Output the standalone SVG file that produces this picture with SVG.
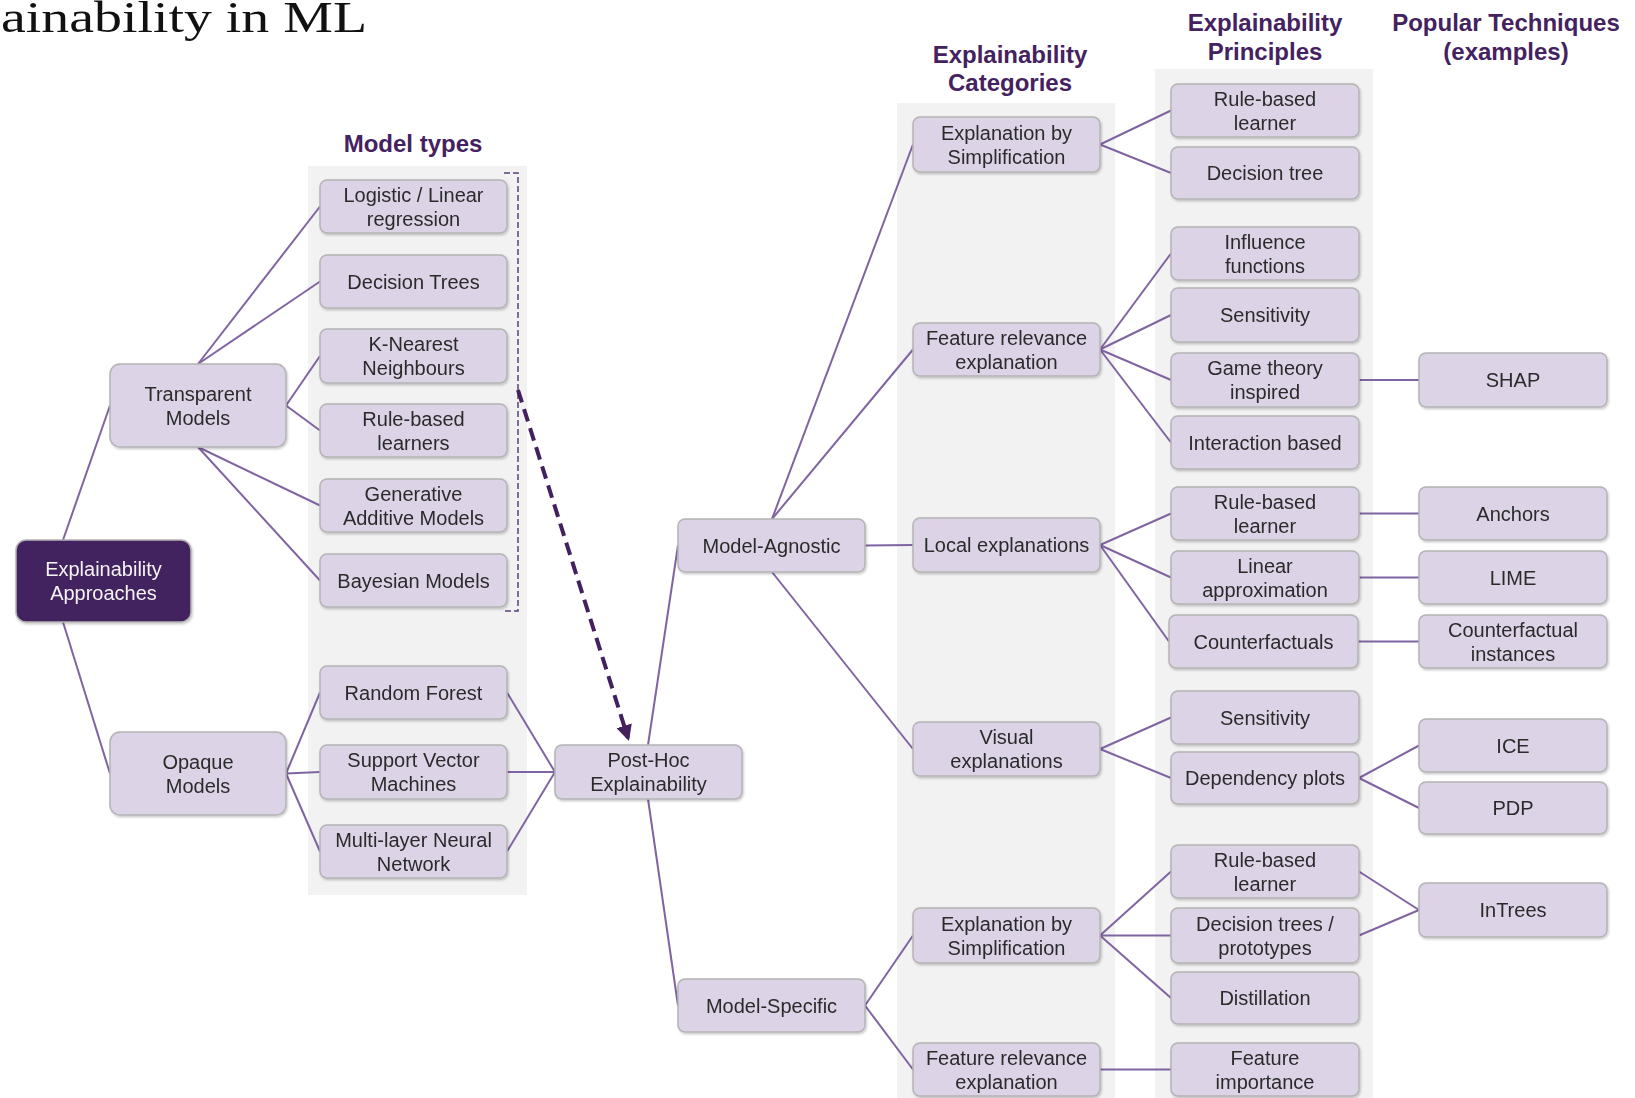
<svg xmlns="http://www.w3.org/2000/svg" width="1635" height="1098" viewBox="0 0 1635 1098">
  <style>
    .panel { fill: #f2f2f2; }
    .box { fill: #dcd3e6; stroke: #b4b4b4; stroke-width: 1.5; }
    .dark { fill: #43205e; stroke: #b4b4b4; stroke-width: 1.5; }
    .lbl { font-family: "Liberation Sans", Arial, sans-serif; font-size: 20px; fill: #2b2b2b; text-anchor: middle; }
    .lbl-w { font-family: "Liberation Sans", Arial, sans-serif; font-size: 20px; fill: #f4f4f4; text-anchor: middle; }
    .head { font-family: "Liberation Sans", Arial, sans-serif; font-size: 24px; font-weight: bold; fill: #44215f; text-anchor: middle; }
    .conn line { stroke: #8064a2; stroke-width: 2; fill: none; }
    .bracket { stroke: #5b3f7a; stroke-width: 1.5; stroke-dasharray: 6 3; fill: none; }
    .arrow { stroke: #43205e; stroke-width: 4; stroke-dasharray: 13 7; fill: none; }
  </style>
  <defs>
    <filter id="sh" x="-10%" y="-10%" width="125%" height="130%">
      <feDropShadow dx="1" dy="1.5" stdDeviation="1" flood-color="#000" flood-opacity="0.22"/>
    </filter>
    <marker id="head" viewBox="0 0 10 10" refX="8" refY="5" markerWidth="4" markerHeight="4" orient="auto" markerUnits="strokeWidth">
      <path d="M0,0 L10,5 L0,10 z" fill="#43205e"/>
    </marker>
  </defs>

  <rect width="1635" height="1098" fill="#ffffff"/>

  <!-- page title, running off the left edge -->
  <text x="1" y="32" font-family="Liberation Serif, Times New Roman, serif" font-size="44" fill="#111" textLength="366" lengthAdjust="spacingAndGlyphs">ainability in ML</text>

  <!-- column backgrounds -->
  <rect class="panel" x="308" y="166" width="219" height="729"/>
  <rect class="panel" x="897" y="103" width="218" height="995"/>
  <rect class="panel" x="1155" y="69" width="218" height="1029"/>

  <!-- column headings -->
  <text class="head" x="413" y="152">Model types</text>
  <text class="head" x="1010" y="63">Explainability</text>
  <text class="head" x="1010" y="91">Categories</text>
  <text class="head" x="1265" y="31">Explainability</text>
  <text class="head" x="1265" y="60">Principles</text>
  <text class="head" x="1506" y="31">Popular Techniques</text>
  <text class="head" x="1506" y="60">(examples)</text>

  <!-- connectors -->
  <g id="connectors" class="conn">
    <line x1="63" y1="540" x2="110" y2="405.5"/>
    <line x1="63" y1="622" x2="110" y2="773.5"/>
    <line x1="198" y1="364" x2="320" y2="206.5"/>
    <line x1="198" y1="364" x2="320" y2="281.5"/>
    <line x1="286" y1="405.5" x2="320" y2="356"/>
    <line x1="286" y1="405.5" x2="320" y2="430.5"/>
    <line x1="198" y1="447" x2="320" y2="505.5"/>
    <line x1="198" y1="447" x2="320" y2="580.5"/>
    <line x1="286" y1="773.5" x2="320" y2="692.5"/>
    <line x1="286" y1="773.5" x2="320" y2="772"/>
    <line x1="286" y1="773.5" x2="320" y2="851.5"/>
    <line x1="507" y1="692.5" x2="555" y2="772"/>
    <line x1="507" y1="772" x2="555" y2="772"/>
    <line x1="507" y1="851.5" x2="555" y2="772"/>
    <line x1="648" y1="745" x2="678" y2="545.5"/>
    <line x1="648" y1="799" x2="678" y2="1005.5"/>
    <line x1="772" y1="519" x2="913" y2="144.5"/>
    <line x1="772" y1="519" x2="913" y2="349.5"/>
    <line x1="865" y1="545.5" x2="913" y2="545"/>
    <line x1="772" y1="572" x2="913" y2="749"/>
    <line x1="865" y1="1005.5" x2="913" y2="935.5"/>
    <line x1="865" y1="1005.5" x2="913" y2="1069.5"/>
    <line x1="1100" y1="144.5" x2="1171" y2="110.5"/>
    <line x1="1100" y1="144.5" x2="1171" y2="173"/>
    <line x1="1100" y1="349.5" x2="1171" y2="253.5"/>
    <line x1="1100" y1="349.5" x2="1171" y2="315"/>
    <line x1="1100" y1="349.5" x2="1171" y2="380"/>
    <line x1="1100" y1="349.5" x2="1171" y2="442.5"/>
    <line x1="1100" y1="545" x2="1171" y2="513.5"/>
    <line x1="1100" y1="545" x2="1171" y2="577.5"/>
    <line x1="1100" y1="545" x2="1169" y2="641.5"/>
    <line x1="1100" y1="749" x2="1171" y2="717.5"/>
    <line x1="1100" y1="749" x2="1171" y2="778"/>
    <line x1="1100" y1="935.5" x2="1171" y2="871.5"/>
    <line x1="1100" y1="935.5" x2="1171" y2="935.5"/>
    <line x1="1100" y1="935.5" x2="1171" y2="998"/>
    <line x1="1100" y1="1069.5" x2="1171" y2="1069.5"/>
    <line x1="1359" y1="380" x2="1419" y2="380"/>
    <line x1="1359" y1="513.5" x2="1419" y2="513.5"/>
    <line x1="1359" y1="577.5" x2="1419" y2="577.5"/>
    <line x1="1358" y1="641.5" x2="1419" y2="641.5"/>
    <line x1="1359" y1="778" x2="1419" y2="745.5"/>
    <line x1="1359" y1="778" x2="1419" y2="808"/>
    <line x1="1359" y1="871.5" x2="1419" y2="910"/>
    <line x1="1359" y1="935.5" x2="1419" y2="910"/>
    <!-- transparent-model bracket and the dashed hand-off to post-hoc -->
    <path class="bracket" d="M504,173 H518 V611 H504"/>
    <path class="arrow" d="M518,390 L628,738" marker-end="url(#head)"/>
  </g>

  <!-- root -->
  <g id="n-approaches" filter="url(#sh)">
    <rect class="dark" x="16" y="540" width="175" height="82" rx="10"/>
    <text class="lbl-w" x="103.5" y="576">Explainability</text>
    <text class="lbl-w" x="103.5" y="600">Approaches</text>
  </g>

  <g id="n-transparent" filter="url(#sh)">
    <rect class="box" x="110" y="364" width="176" height="83" rx="10"/>
    <text class="lbl" x="198" y="400.5">Transparent</text>
    <text class="lbl" x="198" y="424.5">Models</text>
  </g>
  <g id="n-opaque" filter="url(#sh)">
    <rect class="box" x="110" y="732" width="176" height="83" rx="10"/>
    <text class="lbl" x="198" y="768.5">Opaque</text>
    <text class="lbl" x="198" y="792.5">Models</text>
  </g>

  <!-- model types -->
  <g id="n-logistic" filter="url(#sh)">
    <rect class="box" x="320" y="180" width="187" height="53" rx="7"/>
    <text class="lbl" x="413.5" y="201.5">Logistic / Linear</text>
    <text class="lbl" x="413.5" y="225.5">regression</text>
  </g>
  <g id="n-dtrees" filter="url(#sh)">
    <rect class="box" x="320" y="255" width="187" height="53" rx="7"/>
    <text class="lbl" x="413.5" y="288.5">Decision Trees</text>
  </g>
  <g id="n-knn" filter="url(#sh)">
    <rect class="box" x="320" y="329" width="187" height="54" rx="7"/>
    <text class="lbl" x="413.5" y="351">K-Nearest</text>
    <text class="lbl" x="413.5" y="375">Neighbours</text>
  </g>
  <g id="n-rules" filter="url(#sh)">
    <rect class="box" x="320" y="404" width="187" height="53" rx="7"/>
    <text class="lbl" x="413.5" y="425.5">Rule-based</text>
    <text class="lbl" x="413.5" y="449.5">learners</text>
  </g>
  <g id="n-gam" filter="url(#sh)">
    <rect class="box" x="320" y="479" width="187" height="53" rx="7"/>
    <text class="lbl" x="413.5" y="500.5">Generative</text>
    <text class="lbl" x="413.5" y="524.5">Additive Models</text>
  </g>
  <g id="n-bayes" filter="url(#sh)">
    <rect class="box" x="320" y="554" width="187" height="53" rx="7"/>
    <text class="lbl" x="413.5" y="587.5">Bayesian Models</text>
  </g>
  <g id="n-rf" filter="url(#sh)">
    <rect class="box" x="320" y="666" width="187" height="53" rx="7"/>
    <text class="lbl" x="413.5" y="699.5">Random Forest</text>
  </g>
  <g id="n-svm" filter="url(#sh)">
    <rect class="box" x="320" y="745" width="187" height="54" rx="7"/>
    <text class="lbl" x="413.5" y="767">Support Vector</text>
    <text class="lbl" x="413.5" y="791">Machines</text>
  </g>
  <g id="n-mlnn" filter="url(#sh)">
    <rect class="box" x="320" y="825" width="187" height="53" rx="7"/>
    <text class="lbl" x="413.5" y="846.5">Multi-layer Neural</text>
    <text class="lbl" x="413.5" y="870.5">Network</text>
  </g>

  <!-- post-hoc branch -->
  <g id="n-posthoc" filter="url(#sh)">
    <rect class="box" x="555" y="745" width="187" height="54" rx="7"/>
    <text class="lbl" x="648.5" y="767">Post-Hoc</text>
    <text class="lbl" x="648.5" y="791">Explainability</text>
  </g>
  <g id="n-agnostic" filter="url(#sh)">
    <rect class="box" x="678" y="519" width="187" height="53" rx="7"/>
    <text class="lbl" x="771.5" y="552.5">Model-Agnostic</text>
  </g>
  <g id="n-specific" filter="url(#sh)">
    <rect class="box" x="678" y="979" width="187" height="53" rx="7"/>
    <text class="lbl" x="771.5" y="1012.5">Model-Specific</text>
  </g>

  <!-- categories -->
  <g id="n-simp1" filter="url(#sh)">
    <rect class="box" x="913" y="117" width="187" height="55" rx="7"/>
    <text class="lbl" x="1006.5" y="139.5">Explanation by</text>
    <text class="lbl" x="1006.5" y="163.5">Simplification</text>
  </g>
  <g id="n-featrel1" filter="url(#sh)">
    <rect class="box" x="913" y="323" width="187" height="53" rx="7"/>
    <text class="lbl" x="1006.5" y="344.5">Feature relevance</text>
    <text class="lbl" x="1006.5" y="368.5">explanation</text>
  </g>
  <g id="n-local" filter="url(#sh)">
    <rect class="box" x="913" y="518" width="187" height="54" rx="7"/>
    <text class="lbl" x="1006.5" y="552">Local explanations</text>
  </g>
  <g id="n-visual" filter="url(#sh)">
    <rect class="box" x="913" y="722" width="187" height="54" rx="7"/>
    <text class="lbl" x="1006.5" y="744">Visual</text>
    <text class="lbl" x="1006.5" y="768">explanations</text>
  </g>
  <g id="n-simp2" filter="url(#sh)">
    <rect class="box" x="913" y="908" width="187" height="55" rx="7"/>
    <text class="lbl" x="1006.5" y="930.5">Explanation by</text>
    <text class="lbl" x="1006.5" y="954.5">Simplification</text>
  </g>
  <g id="n-featrel2" filter="url(#sh)">
    <rect class="box" x="913" y="1043" width="187" height="53" rx="7"/>
    <text class="lbl" x="1006.5" y="1064.5">Feature relevance</text>
    <text class="lbl" x="1006.5" y="1088.5">explanation</text>
  </g>

  <!-- principles -->
  <g id="n-rb1" filter="url(#sh)">
    <rect class="box" x="1171" y="84" width="188" height="53" rx="7"/>
    <text class="lbl" x="1265" y="105.5">Rule-based</text>
    <text class="lbl" x="1265" y="129.5">learner</text>
  </g>
  <g id="n-dt" filter="url(#sh)">
    <rect class="box" x="1171" y="147" width="188" height="52" rx="7"/>
    <text class="lbl" x="1265" y="180">Decision tree</text>
  </g>
  <g id="n-influence" filter="url(#sh)">
    <rect class="box" x="1171" y="227" width="188" height="53" rx="7"/>
    <text class="lbl" x="1265" y="248.5">Influence</text>
    <text class="lbl" x="1265" y="272.5">functions</text>
  </g>
  <g id="n-sens1" filter="url(#sh)">
    <rect class="box" x="1171" y="288" width="188" height="54" rx="7"/>
    <text class="lbl" x="1265" y="322">Sensitivity</text>
  </g>
  <g id="n-game" filter="url(#sh)">
    <rect class="box" x="1171" y="353" width="188" height="54" rx="7"/>
    <text class="lbl" x="1265" y="375">Game theory</text>
    <text class="lbl" x="1265" y="399">inspired</text>
  </g>
  <g id="n-interaction" filter="url(#sh)">
    <rect class="box" x="1171" y="416" width="188" height="53" rx="7"/>
    <text class="lbl" x="1265" y="449.5">Interaction based</text>
  </g>
  <g id="n-rb2" filter="url(#sh)">
    <rect class="box" x="1171" y="487" width="188" height="53" rx="7"/>
    <text class="lbl" x="1265" y="508.5">Rule-based</text>
    <text class="lbl" x="1265" y="532.5">learner</text>
  </g>
  <g id="n-linear" filter="url(#sh)">
    <rect class="box" x="1171" y="551" width="188" height="53" rx="7"/>
    <text class="lbl" x="1265" y="572.5">Linear</text>
    <text class="lbl" x="1265" y="596.5">approximation</text>
  </g>
  <g id="n-counterf" filter="url(#sh)">
    <rect class="box" x="1169" y="615" width="189" height="53" rx="7"/>
    <text class="lbl" x="1263.5" y="648.5">Counterfactuals</text>
  </g>
  <g id="n-sens2" filter="url(#sh)">
    <rect class="box" x="1171" y="691" width="188" height="53" rx="7"/>
    <text class="lbl" x="1265" y="724.5">Sensitivity</text>
  </g>
  <g id="n-dependency" filter="url(#sh)">
    <rect class="box" x="1171" y="752" width="188" height="52" rx="7"/>
    <text class="lbl" x="1265" y="785">Dependency plots</text>
  </g>
  <g id="n-rb3" filter="url(#sh)">
    <rect class="box" x="1171" y="845" width="188" height="53" rx="7"/>
    <text class="lbl" x="1265" y="866.5">Rule-based</text>
    <text class="lbl" x="1265" y="890.5">learner</text>
  </g>
  <g id="n-dtproto" filter="url(#sh)">
    <rect class="box" x="1171" y="908" width="188" height="55" rx="7"/>
    <text class="lbl" x="1265" y="930.5">Decision trees /</text>
    <text class="lbl" x="1265" y="954.5">prototypes</text>
  </g>
  <g id="n-distill" filter="url(#sh)">
    <rect class="box" x="1171" y="972" width="188" height="52" rx="7"/>
    <text class="lbl" x="1265" y="1005">Distillation</text>
  </g>
  <g id="n-featimp" filter="url(#sh)">
    <rect class="box" x="1171" y="1043" width="188" height="53" rx="7"/>
    <text class="lbl" x="1265" y="1064.5">Feature</text>
    <text class="lbl" x="1265" y="1088.5">importance</text>
  </g>

  <!-- techniques -->
  <g id="n-shap" filter="url(#sh)">
    <rect class="box" x="1419" y="353" width="188" height="54" rx="7"/>
    <text class="lbl" x="1513" y="387">SHAP</text>
  </g>
  <g id="n-anchors" filter="url(#sh)">
    <rect class="box" x="1419" y="487" width="188" height="53" rx="7"/>
    <text class="lbl" x="1513" y="520.5">Anchors</text>
  </g>
  <g id="n-lime" filter="url(#sh)">
    <rect class="box" x="1419" y="551" width="188" height="53" rx="7"/>
    <text class="lbl" x="1513" y="584.5">LIME</text>
  </g>
  <g id="n-cfinst" filter="url(#sh)">
    <rect class="box" x="1419" y="615" width="188" height="53" rx="7"/>
    <text class="lbl" x="1513" y="636.5">Counterfactual</text>
    <text class="lbl" x="1513" y="660.5">instances</text>
  </g>
  <g id="n-ice" filter="url(#sh)">
    <rect class="box" x="1419" y="719" width="188" height="53" rx="7"/>
    <text class="lbl" x="1513" y="752.5">ICE</text>
  </g>
  <g id="n-pdp" filter="url(#sh)">
    <rect class="box" x="1419" y="782" width="188" height="52" rx="7"/>
    <text class="lbl" x="1513" y="815">PDP</text>
  </g>
  <g id="n-intrees" filter="url(#sh)">
    <rect class="box" x="1419" y="883" width="188" height="54" rx="7"/>
    <text class="lbl" x="1513" y="917">InTrees</text>
  </g>
</svg>
